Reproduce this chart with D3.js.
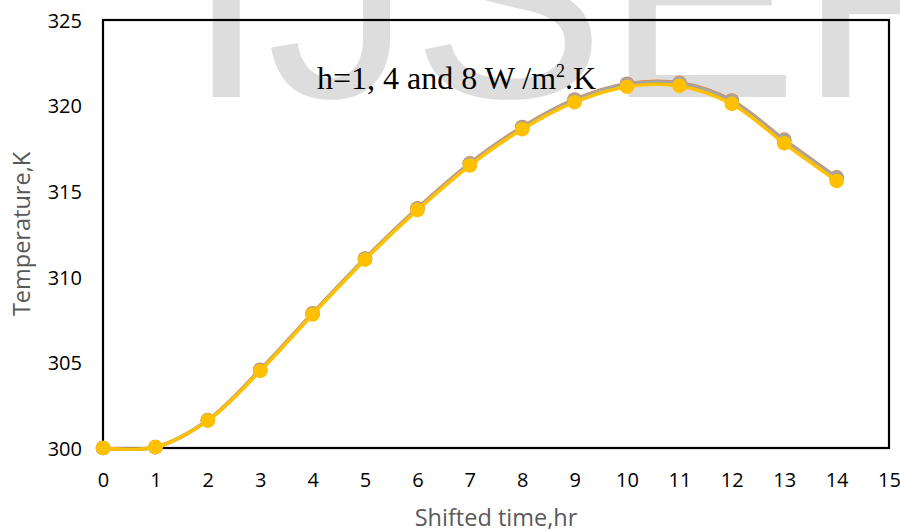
<!DOCTYPE html>
<html>
<head>
<meta charset="utf-8">
<script src="https://cdn.jsdelivr.net/npm/d3@7"></script>
<style>
  html, body { margin: 0; padding: 0; background: #fff; }
  svg { display: block; }
</style>
</head>
<body>
<svg id="chart" width="900" height="531"></svg>
<script>
// ---- data ----
const hours = [0,1,2,3,4,5,6,7,8,9,10,11,12,13,14];
const seriesNames = ["h=1", "h=4", "h=8"];
const tempH1 = [300.0, 300.05, 301.63, 304.57, 307.87, 311.07, 314.0, 316.63, 318.75, 320.36, 321.28, 321.33, 320.30, 318.01, 315.81];
const tempH4 = [300.0, 300.05, 301.62, 304.55, 307.85, 311.05, 313.97, 316.60, 318.72, 320.33, 321.25, 321.30, 320.27, 317.98, 315.78];
const tempH8 = [300.0, 300.05, 301.60, 304.50, 307.80, 311.00, 313.90, 316.50, 318.62, 320.20, 321.10, 321.15, 320.10, 317.80, 315.60];
const seriesColors = ["#ed7d31", "#a5a5a5", "#ffc000"];
const xTicks = [0,1,2,3,4,5,6,7,8,9,10,11,12,13,14,15];
const yTicks = [300, 305, 310, 315, 320, 325];
const xTitle = "Shifted time,hr";
const yTitle = "Temperature,K";
const watermark = "IJSER";

// ---- layout ----
const svg = d3.select("#chart");
const mLeft = 103, mRight = 889, mTop = 20, mBottom = 448;
const x = d3.scaleLinear().domain([0, 15]).range([mLeft, mRight]);
const y = d3.scaleLinear().domain([300, 325]).range([mBottom, mTop]);

// watermark
svg.append("text")
  .attr("x", 186).attr("y", 97)
  .attr("font-family", "'Liberation Sans', Arial, sans-serif")
  .attr("font-size", 290)
  .attr("fill", "#dddddd")
  .text(watermark);

// axes (labels only)
const fontTick = "'Open Sans', sans-serif";
const xAxis = d3.axisBottom(x).tickValues(xTicks).tickSize(0).tickPadding(0).tickFormat(d3.format("d"));
const gx = svg.append("g").attr("transform", `translate(0,${mBottom})`).call(xAxis);
gx.select(".domain").remove();
gx.selectAll("text").attr("font-family", fontTick).attr("font-size", 20).attr("fill", "#000")
  .attr("dy", null).attr("y", 39);

const yAxis = d3.axisLeft(y).tickValues(yTicks).tickSize(0).tickPadding(0).tickFormat(d3.format("d"));
const gy = svg.append("g").attr("transform", `translate(${mLeft - 21},0)`).call(yAxis);
gy.select(".domain").remove();
gy.selectAll("text").attr("font-family", fontTick).attr("font-size", 20).attr("fill", "#000")
  .attr("dy", "0.36em");

// frame
svg.append("rect")
  .attr("x", mLeft).attr("y", mTop)
  .attr("width", mRight - mLeft).attr("height", mBottom - mTop)
  .attr("fill", "none").attr("stroke", "#000").attr("stroke-width", 2.2);

// axis titles
svg.append("text")
  .attr("x", 496).attr("y", 526)
  .attr("text-anchor", "middle")
  .attr("font-family", fontTick).attr("font-size", 23.5)
  .attr("fill", "#595959")
  .text(xTitle);
svg.append("text")
  .attr("transform", "translate(30,234) rotate(-90)")
  .attr("text-anchor", "middle")
  .attr("font-family", fontTick).attr("font-size", 23.5)
  .attr("fill", "#595959")
  .text(yTitle);

// annotation
const ann = svg.append("text")
  .attr("x", 317).attr("y", 89)
  .attr("font-family", "'Liberation Serif', 'Times New Roman', serif")
  .attr("font-size", 32)
  .attr("fill", "#000");
ann.append("tspan").text("h=1, 4 and 8 W /m");
ann.append("tspan").attr("font-size", 18).attr("dy", -12).text("2");
ann.append("tspan").attr("dy", 12).text(".K");

// series
const allSeries = [tempH1, tempH4, tempH8];
const line = d3.line()
  .x((d, i) => x(hours[i]))
  .y(d => y(d))
  .curve(d3.curveCatmullRom.alpha(0.5));

allSeries.forEach((vals, k) => {
  const g = svg.append("g").attr("class", "series").attr("data-name", seriesNames[k]);
  g.append("path")
    .attr("d", line(vals))
    .attr("fill", "none")
    .attr("stroke", seriesColors[k])
    .attr("stroke-width", 3.5)
    .attr("stroke-linejoin", "round");
  g.selectAll("circle").data(vals).join("circle")
    .attr("cx", (d, i) => x(hours[i]))
    .attr("cy", d => y(d))
    .attr("r", 7.3)
    .attr("fill", seriesColors[k]);
});
</script>
</body>
</html>
